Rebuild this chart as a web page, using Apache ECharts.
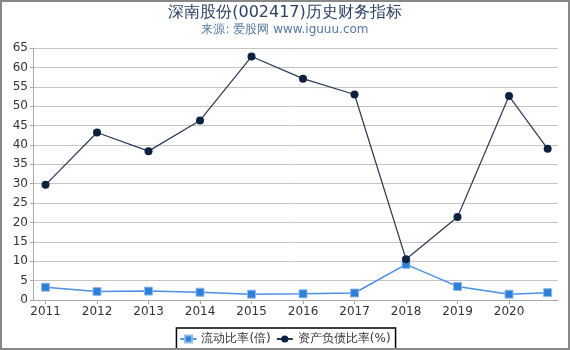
<!DOCTYPE html>
<html>
<head>
<meta charset="utf-8">
<script src="https://cdn.jsdelivr.net/npm/echarts@6/dist/echarts.min.js"></script>
<style>
html,body{margin:0;padding:0;background:#fff;}
#frame{position:absolute;left:0;top:0;width:566px;height:346px;border:2px solid #888;}
#chart{position:absolute;left:0;top:0;width:570px;height:350px;}
</style>
</head>
<body>
<div id="chart"></div>
<div id="frame"></div>
<script>
const periods = ['2011-12-31','2012-12-31','2013-12-31','2014-12-31','2015-12-31','2016-12-31','2017-12-31','2018-12-31','2019-12-31','2020-12-31','2021-09-30'];
const currentRatio = [3.3, 2.2, 2.3, 2.0, 1.5, 1.6, 1.8, 9.2, 3.5, 1.5, 1.9];
const debtRatio = [29.7, 43.2, 38.4, 46.3, 62.8, 57.1, 53.0, 10.5, 21.4, 52.6, 39.0];
const yearTicks = [2011, 2012, 2013, 2014, 2015, 2016, 2017, 2018, 2019, 2020];
const seriesNames = ['流动比率(倍)', '资产负债比率(%)'];
const titleText = '深南股份(002417)历史财务指标';
const subtitleText = '来源: 爱股网 www.iguuu.com';

function toYear(p){ const a = p.split('-'); return +a[0] - 1 + (+a[1]) / 12; }
const xs = periods.map(toYear);

const chart = echarts.init(document.getElementById('chart'));
const font = 'DejaVu Sans';
chart.setOption({
  animation: false,
  textStyle: {fontFamily: font},
  title: {
    text: titleText, subtext: subtitleText, left: 'center', top: 0,
    itemGap: 3,
    textStyle: {fontFamily: font, fontSize: 16, fontWeight: 'normal', color: '#2b4266'},
    subtextStyle: {fontFamily: font, fontSize: 12, color: '#5577a3'}
  },
  legend: {
    bottom: 0, left: 'center',
    data: seriesNames,
    borderColor: '#000', borderWidth: 1.5, borderRadius: 0,
    padding: [5, 5, 5, 3], itemGap: 5, itemWidth: 16, itemHeight: 9,
    textStyle: {fontFamily: font, fontSize: 12, color: '#333'}
  },
  grid: {left: 33, right: 12, top: 48, bottom: 50},
  xAxis: {
    type: 'value', min: 2010.757, max: 2020.951,
    axisLine: {lineStyle: {color: '#aaa'}},
    axisTick: {customValues: yearTicks, length: 4, lineStyle: {color: '#aaa'}},
    axisLabel: {customValues: yearTicks, formatter: v => String(Math.round(v)), color: '#333', fontSize: 12, fontFamily: font, margin: 6},
    splitLine: {show: false}
  },
  yAxis: {
    type: 'value', min: 0, max: 65, interval: 5,
    axisLine: {show: true, lineStyle: {color: '#aaa'}},
    axisTick: {show: true, length: 3, lineStyle: {color: '#aaa'}},
    axisLabel: {color: '#333', fontSize: 12, fontFamily: font, margin: 5},
    splitLine: {lineStyle: {color: '#c4c4c4', width: 1}}
  },
  series: [
    {
      name: seriesNames[0], type: 'line',
      data: xs.map((x, i) => [x, currentRatio[i]]),
      symbol: 'rect', symbolSize: 8,
      itemStyle: {color: '#2f7fd9', borderColor: '#8fbcec', borderWidth: 1},
      lineStyle: {color: '#4a90e2', width: 1.5}
    },
    {
      name: seriesNames[1], type: 'line',
      data: xs.map((x, i) => [x, debtRatio[i]]),
      symbol: 'circle', symbolSize: 8,
      itemStyle: {color: '#0f2140'},
      lineStyle: {color: '#2a3a55', width: 1.2}
    }
  ]
});
</script>
</body>
</html>
